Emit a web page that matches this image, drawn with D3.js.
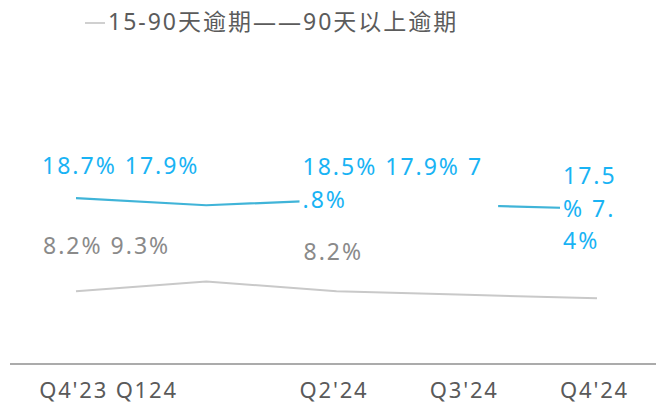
<!DOCTYPE html>
<html>
<head>
<meta charset="utf-8">
<script src="https://cdn.jsdelivr.net/npm/d3@7"></script>
<style>
  body { margin: 0; background: #fff; }
  svg { display: block; }
  text { font-family: "Noto Sans", "Noto Sans CJK SC", sans-serif; }
</style>
</head>
<body>
<svg id="chart" width="656" height="403"></svg>
<script>
// Data
const quarters = ["Q4'23", "Q1'24", "Q2'24", "Q3'24", "Q4'24"];
const tickLabels = ["Q4'23 Q124", "", "Q2'24", "Q3'24", "Q4'24"];
const seriesNames = ["15-90天逾期", "90天以上逾期"];
const overdue15to90 = [8.2, 9.3, 8.2, 7.8, 7.4];
const overdue90plus = [18.7, 17.9, 18.5, 17.9, 17.5];

// value labels, wrapped the way they are printed
const blueLabelAt = ["Q4'23", "Q2'24", "Q4'24"];
const blueLabelLines = [["18.7% 17.9%"], ["18.5% 17.9% 7", ".8%"], ["17.5", "% 7.", "4%"]];
const grayLabelAt = ["Q4'23", "Q2'24"];
const grayLabelLines = [["8.2% 9.3%"], ["8.2%"]];

const svg = d3.select("#chart");
const width = 656;

const x = d3.scalePoint()
    .domain(quarters)
    .range([76, 597]);

const y = d3.scaleLinear()
    .domain([0, 20])
    .range([364, 364 - 20 * 8.87]);

// x axis
const xAxis = svg.append("g")
    .attr("transform", "translate(0,364)")
    .call(d3.axisBottom(x).tickSize(0).tickFormat((d, i) => tickLabels[i]));
xAxis.select(".domain").remove();
xAxis.append("line")
    .attr("x1", 10).attr("x2", width)
    .attr("stroke", "#ababab")
    .attr("stroke-width", 2);
xAxis.selectAll(".tick text")
    .attr("fill", "#5a5a5a")
    .attr("font-size", 22)
    .attr("letter-spacing", 1.8)
    .attr("y", 34)
    .attr("dy", 0)
    .attr("text-anchor", "middle")
    .attr("dx", (d, i) => i === 0 ? 32 : -3);

// lines
const line = d3.line()
    .x((d, i) => x(quarters[i]))
    .y(d => y(d));

svg.append("path")
    .datum(overdue15to90)
    .attr("fill", "none")
    .attr("stroke", "#c9c9c9")
    .attr("stroke-width", 2)
    .attr("d", line);

svg.append("path")
    .datum(overdue90plus)
    .attr("fill", "none")
    .attr("stroke", "#40b4d8")
    .attr("stroke-width", 2.2)
    .attr("d", line);

// blue labels sit on white boxes that hide part of the line
blueLabelAt.forEach((q, k) => {
    const i = quarters.indexOf(q);
    const g = svg.append("g")
        .attr("transform", `translate(${x(q) - 34},${y(overdue90plus[i]) - 24.5})`);
    const bg = g.append("rect").attr("fill", "#fff");
    const t = g.append("text")
        .attr("fill", "#19b3f4")
        .attr("font-size", 23)
        .attr("letter-spacing", 2);
    t.selectAll("tspan")
        .data(blueLabelLines[k])
        .enter().append("tspan")
        .attr("x", 0)
        .attr("y", (d, j) => j * 32.5)
        .text(d => d);
    const b = t.node().getBBox();
    bg.attr("x", b.x - 3).attr("y", b.y - 4)
        .attr("width", b.width + 18).attr("height", b.height + 10);
});

const grayDy = [-37, -31];
grayLabelAt.forEach((q, k) => {
    const i = quarters.indexOf(q);
    svg.append("text")
        .attr("x", x(q) - 33)
        .attr("y", y(overdue15to90[i]) + grayDy[k])
        .attr("fill", "#8a8a8a")
        .attr("font-size", 23)
        .attr("letter-spacing", 2)
        .text(grayLabelLines[k][0]);
});

// legend
svg.append("line")
    .attr("x1", 85).attr("x2", 105)
    .attr("y1", 23).attr("y2", 23)
    .attr("stroke", "#d0d0d0")
    .attr("stroke-width", 2);
svg.append("text")
    .attr("x", 108)
    .attr("y", 30)
    .attr("fill", "#5b5b5b")
    .attr("font-size", 23)
    .attr("letter-spacing", 2)
    .text(seriesNames[0] + "——" + seriesNames[1]);
</script>
</body>
</html>
